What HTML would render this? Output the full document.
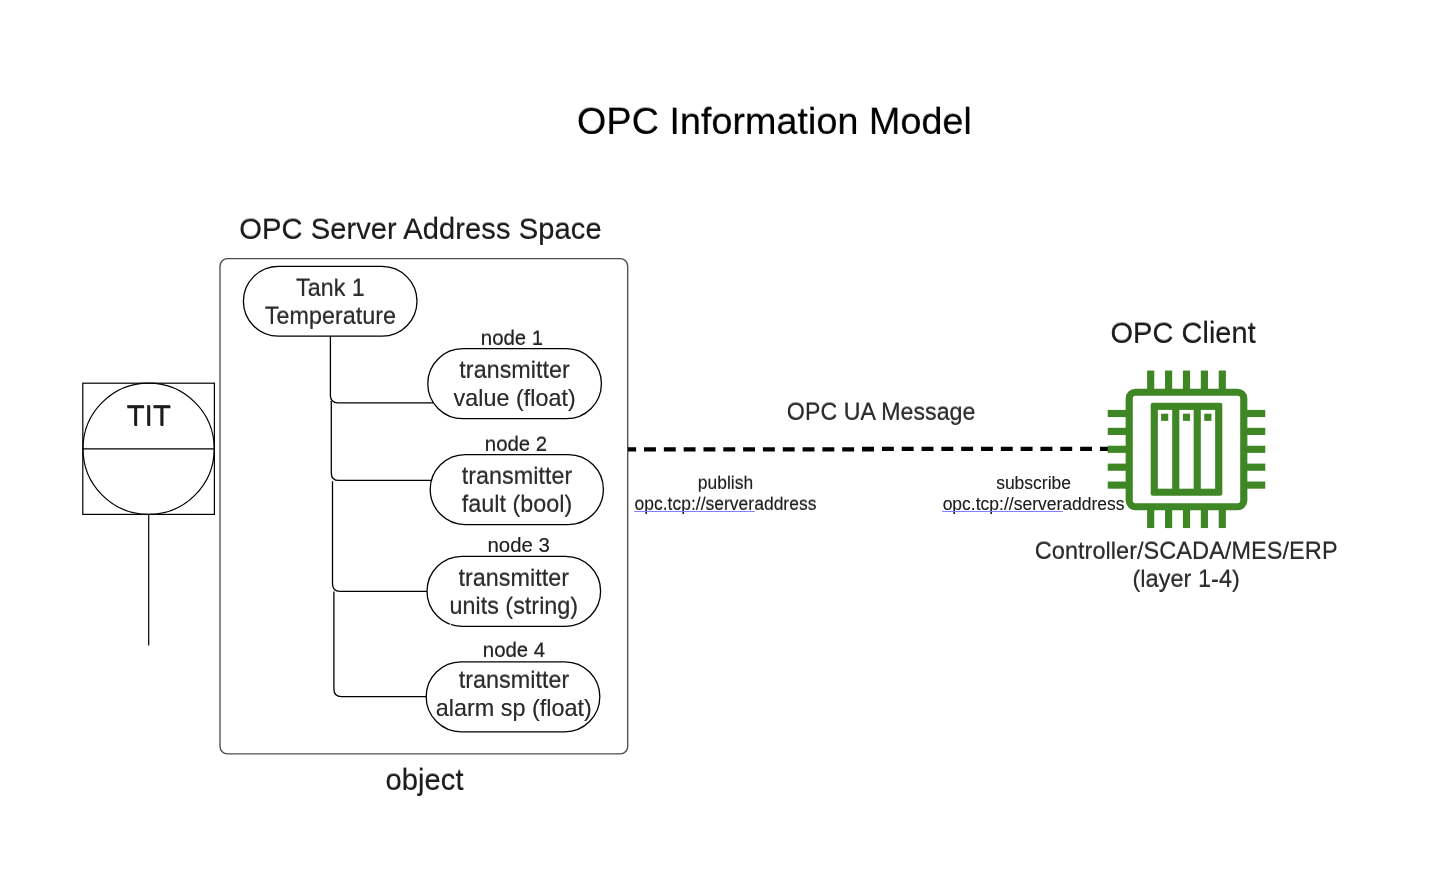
<!DOCTYPE html>
<html>
<head>
<meta charset="utf-8">
<title>OPC Information Model</title>
<style>
  html, body { margin: 0; padding: 0; background: #ffffff; }
  body { width: 1452px; height: 883px; overflow: hidden; }
  svg { display: block; will-change: transform; }
  text { font-family: "Liberation Sans", sans-serif; text-anchor: middle; }
  .ln { fill: none; stroke: #000; stroke-width: 1.3; }
  .pill { fill: #fff; stroke: #000; stroke-width: 1.3; }
  .t1 { font-size: 37.8px; fill: #000; }
  .t2 { font-size: 29.25px; fill: #1c1c1c; }
  .t3 { font-size: 23.4px; fill: #2b2b2b; }
  .t4 { font-size: 20.4px; fill: #222; }
  .t5 { font-size: 17.5px; fill: #1e1e1e; }
  .g { fill: #3f8624; }
</style>
</head>
<body>
<svg width="1452" height="883" viewBox="0 0 1452 883">
  <rect x="0" y="0" width="1452" height="883" fill="#ffffff"/>

  <!-- title -->
  <text fill-opacity="0.35" class="t1" x="774.05" y="132.95">OPC Information Model</text>
  <text class="t1" x="774.5" y="133.9">OPC Information Model</text>

  <!-- server container -->
  <text fill-opacity="0.45" class="t2" x="420.15" y="237.90">OPC Server Address Space</text>
  <text class="t2" x="420.4" y="238.8">OPC Server Address Space</text>
  <rect x="220" y="258.6" width="407.7" height="495.3" rx="7.5" ry="7.5" fill="none" stroke="#4b4e53" stroke-width="1.35"/>
  <text fill-opacity="0.45" class="t2" x="424.25" y="788.70">object</text>
  <text class="t2" x="424.5" y="789.6">object</text>

  <!-- TIT instrument -->
  <rect x="82.8" y="383.2" width="131.6" height="131.2" fill="none" stroke="#000" stroke-width="1.2"/>
  <circle cx="148.6" cy="448.8" r="65.6" fill="none" stroke="#000" stroke-width="1.2"/>
  <line x1="82.8" y1="448.8" x2="214.4" y2="448.8" stroke="#000" stroke-width="1.2"/>
  <line x1="148.7" y1="514.4" x2="148.7" y2="645.4" stroke="#000" stroke-width="1.2"/>
  <text fill-opacity="0.85" class="t2" x="148.60" y="424.75" style="font-size:29.6px">TIT</text>
  <text class="t2" x="148.9" y="425.8" style="font-size:29.6px">TIT</text>

  <!-- connectors -->
  <path class="ln" d="M330.4,336 V395.3 Q330.4,402.8 337.9,402.8 H433.4"/>
  <path class="ln" d="M330.7,401 L331.3,402 V472.9 Q331.3,480.4 338.8,480.4 H431.5"/>
  <path class="ln" d="M332.5,481.3 V583.8 Q332.5,591.3 340,591.3 H428"/>
  <path class="ln" d="M333.9,591.5 V689.1 Q333.9,696.6 341.4,696.6 H427"/>

  <!-- pills -->
  <rect class="pill" x="243.4" y="266.4" width="173.6" height="69.8" rx="35" ry="35"/>
  <text fill-opacity="0.5" class="t3" x="330.30" y="294.85">Tank 1</text>
  <text class="t3" x="330.4" y="295.5">Tank 1</text>
  <text fill-opacity="0.5" class="t3" x="330.30" y="323.25">Temperature</text>
  <text class="t3" x="330.4" y="323.9">Temperature</text>

  <text fill-opacity="0.5" class="t4" x="512.00" y="344.20">node 1</text>
  <text class="t4" x="512" y="344.8">node 1</text>
  <rect class="pill" x="427.8" y="348.7" width="173.6" height="70" rx="35" ry="35"/>
  <text fill-opacity="0.5" class="t3" x="514.50" y="377.15">transmitter</text>
  <text class="t3" x="514.6" y="377.8">transmitter</text>
  <text fill-opacity="0.5" class="t3" x="514.50" y="405.65">value (float)</text>
  <text class="t3" x="514.6" y="406.3">value (float)</text>

  <text fill-opacity="0.5" class="t4" x="516.00" y="450.00">node 2</text>
  <text class="t4" x="516" y="450.6">node 2</text>
  <rect class="pill" x="430.2" y="454.55" width="173.2" height="70" rx="35" ry="35"/>
  <text fill-opacity="0.5" class="t3" x="516.90" y="483.45">transmitter</text>
  <text class="t3" x="517" y="484.1">transmitter</text>
  <text fill-opacity="0.5" class="t3" x="516.90" y="511.05">fault (bool)</text>
  <text class="t3" x="517" y="511.7">fault (bool)</text>

  <text fill-opacity="0.5" class="t4" x="518.70" y="551.80">node 3</text>
  <text class="t4" x="518.7" y="552.4">node 3</text>
  <rect class="pill" x="427" y="556.3" width="173.6" height="70" rx="35" ry="35"/>
  <line x1="450.15" y1="622.6" x2="451.0" y2="626.2" stroke="#fff" stroke-width="0.9"/>
  <text fill-opacity="0.5" class="t3" x="513.70" y="584.85">transmitter</text>
  <text class="t3" x="513.8" y="585.5">transmitter</text>
  <text fill-opacity="0.5" class="t3" x="513.70" y="613.05">units (string)</text>
  <text class="t3" x="513.8" y="613.7">units (string)</text>

  <text fill-opacity="0.5" class="t4" x="514.00" y="656.40">node 4</text>
  <text class="t4" x="514" y="657">node 4</text>
  <rect class="pill" x="426.2" y="661.8" width="173.6" height="70" rx="35" ry="35"/>
  <text fill-opacity="0.5" class="t3" x="513.90" y="686.85">transmitter</text>
  <text class="t3" x="514" y="687.5">transmitter</text>
  <text fill-opacity="0.5" class="t3" x="513.70" y="715.65">alarm sp (float)</text>
  <text class="t3" x="513.8" y="716.3">alarm sp (float)</text>

  <!-- message line -->
  <line x1="628" y1="449.3" x2="874" y2="449.3" stroke="#000" stroke-width="4.2" stroke-dasharray="11.9 7.92" stroke-dashoffset="3.8"/>
  <line x1="862.1" y1="448.8" x2="1108" y2="448.8" stroke="#000" stroke-width="4.2" stroke-dasharray="11.9 7.92"/>
  <text fill-opacity="0.5" class="t3" x="881.05" y="418.85" style="font-size:23.25px">OPC UA Message</text>
  <text class="t3" x="881.15" y="419.5" style="font-size:23.25px">OPC UA Message</text>

  <text fill-opacity="0.4" class="t5" x="725.50" y="488.00">publish</text>
  <text class="t5" x="725.5" y="488.6">publish</text>
  <rect x="633" y="491.8" width="186" height="8" fill="#fff"/>
  <text fill-opacity="0.4" class="t5" x="725.50" y="509.30">opc.tcp://serveraddress</text>
  <text class="t5" x="725.5" y="509.9">opc.tcp://serveraddress</text>
  <line x1="634.2" y1="511.5" x2="754.7" y2="511.5" stroke="#7f7fff" stroke-width="1"/>
  <text fill-opacity="0.4" class="t5" x="1033.60" y="488.80">subscribe</text>
  <text class="t5" x="1033.6" y="489.4">subscribe</text>
  <text fill-opacity="0.4" class="t5" x="1033.60" y="509.50">opc.tcp://serveraddress</text>
  <text class="t5" x="1033.6" y="510.1">opc.tcp://serveraddress</text>
  <line x1="942.2" y1="511.5" x2="1062.8" y2="511.5" stroke="#7f7fff" stroke-width="1"/>

  <!-- client -->
  <text fill-opacity="0.45" class="t2" x="1182.85" y="341.80" style="font-size:29.05px">OPC Client</text>
  <text class="t2" x="1183.1" y="342.7" style="font-size:29.05px">OPC Client</text>
  <text fill-opacity="0.5" class="t3" x="1186.10" y="557.85" style="font-size:23.6px">Controller/SCADA/MES/ERP</text>
  <text class="t3" x="1186.2" y="558.5" style="font-size:23.6px">Controller/SCADA/MES/ERP</text>
  <text fill-opacity="0.5" class="t3" x="1186.10" y="586.25" style="font-size:23.6px">(layer 1-4)</text>
  <text class="t3" x="1186.2" y="586.9" style="font-size:23.6px">(layer 1-4)</text>

  <!-- chip icon -->
  <g id="chip" transform="translate(1186.5 449.3)">
    <rect class="g" x="-39.38" y="-78.76" width="7.16" height="18.62"/>
    <rect class="g" x="-39.38" y="60.14" width="7.16" height="18.62"/>
    <rect class="g" x="-78.76" y="-39.38" width="18.62" height="7.16"/>
    <rect class="g" x="60.14" y="-39.38" width="18.62" height="7.16"/>
    <rect class="g" x="-21.48" y="-78.76" width="7.16" height="18.62"/>
    <rect class="g" x="-21.48" y="60.14" width="7.16" height="18.62"/>
    <rect class="g" x="-78.76" y="-21.48" width="18.62" height="7.16"/>
    <rect class="g" x="60.14" y="-21.48" width="18.62" height="7.16"/>
    <rect class="g" x="-3.58" y="-78.76" width="7.16" height="18.62"/>
    <rect class="g" x="-3.58" y="60.14" width="7.16" height="18.62"/>
    <rect class="g" x="-78.76" y="-3.58" width="18.62" height="7.16"/>
    <rect class="g" x="60.14" y="-3.58" width="18.62" height="7.16"/>
    <rect class="g" x="14.32" y="-78.76" width="7.16" height="18.62"/>
    <rect class="g" x="14.32" y="60.14" width="7.16" height="18.62"/>
    <rect class="g" x="-78.76" y="14.32" width="18.62" height="7.16"/>
    <rect class="g" x="60.14" y="14.32" width="18.62" height="7.16"/>
    <rect class="g" x="32.22" y="-78.76" width="7.16" height="18.62"/>
    <rect class="g" x="32.22" y="60.14" width="7.16" height="18.62"/>
    <rect class="g" x="-78.76" y="32.22" width="18.62" height="7.16"/>
    <rect class="g" x="60.14" y="32.22" width="18.62" height="7.16"/>
    <rect x="-57.28" y="-57.08" width="114.56" height="114.56" rx="6.23" fill="#fff" stroke="#3f8624" stroke-width="7.16"/>
    <rect class="g" x="-35.80" y="-46.54" width="71.60" height="93.08" rx="2.3"/>
    <rect fill="#fff" x="-28.64" y="-39.38" width="14.32" height="78.76"/>
    <rect fill="#fff" x="-7.16" y="-39.38" width="14.32" height="78.76"/>
    <rect fill="#fff" x="14.32" y="-39.38" width="14.32" height="78.76"/>
    <rect class="g" x="-25.41" y="-35.60" width="7.16" height="7.16"/>
    <rect class="g" x="-3.63" y="-35.60" width="7.16" height="7.16"/>
    <rect class="g" x="17.75" y="-35.60" width="7.16" height="7.16"/>
  </g>
</svg>
</body>
</html>
